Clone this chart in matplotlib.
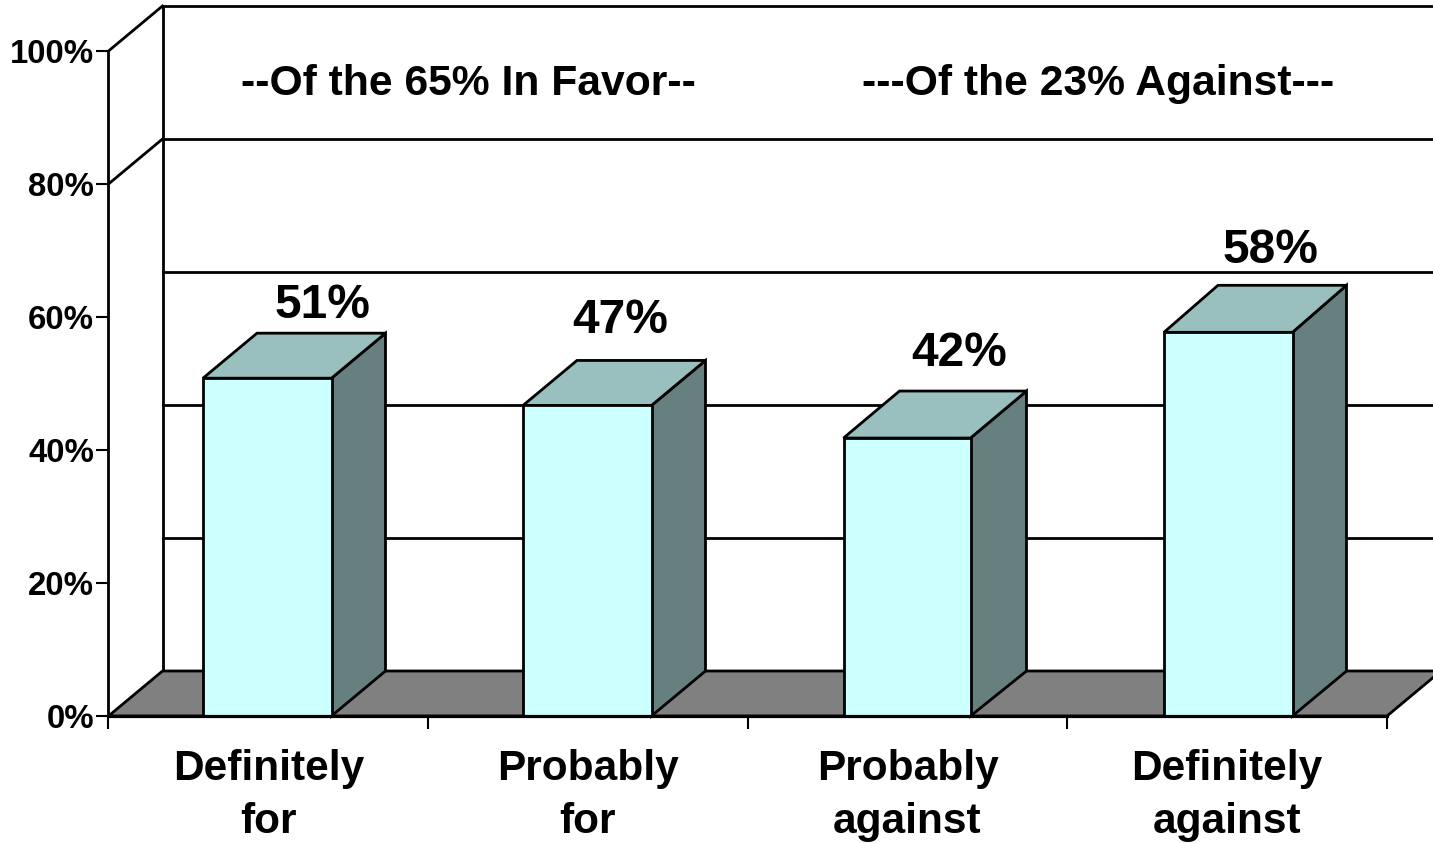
import matplotlib
matplotlib.use("Agg")
import matplotlib.pyplot as plt
from matplotlib.patches import Polygon

categories = ["Definitely\nfor", "Probably\nfor", "Probably\nagainst", "Definitely\nagainst"]
# bar heights as drawn are a little under the printed labels
heights = [50.8, 46.7, 41.8, 57.7]
labels = ["51%", "47%", "42%", "58%"]
y_ticks = [0, 20, 40, 60, 80, 100]
y_tick_labels = ["0%", "20%", "40%", "60%", "80%", "100%"]

W, H = 1433, 843
fig = plt.figure(figsize=(W / 100, H / 100), dpi=100)
plt.rcParams["font.family"] = ["Liberation Sans", "DejaVu Sans"]

# front plane of the fake 3d box
left, right, bottom, top = 108.5, 1387, 716, 51
ax = fig.add_axes([left / W, 1 - bottom / H, (right - left) / W, (bottom - top) / H])
ax.set_xlim(0, 4)
ax.set_ylim(0, 100)
for s in ax.spines.values():
    s.set_visible(False)
ax.patch.set_visible(False)

cat_px = (right - left) / 4
val_px = (bottom - top) / 100
dx = 54 / cat_px
dy = 45 / val_px
lw = 2.0
bar_w = [128.5 / cat_px, 128.5 / cat_px, 127 / cat_px, 128.5 / cat_px]
bar_off = [(203 - left) / cat_px, (523 - left) / cat_px - 1, (843.5 - left) / cat_px - 2, (1164 - left) / cat_px - 3]
# the tops of the last two bars go back slightly further than the first two
bar_dx = [dx, dx, 56 / cat_px, dx]
bar_top_dy = [dy, dy, 47 / val_px, 47 / val_px]

# floor
ax.add_patch(Polygon([(0, 0), (dx, dy), (4 + dx, dy), (4, 0)], fc="#808080", ec="black", lw=lw,
                     clip_on=False, zorder=1, joinstyle="miter"))

# walls and gridlines
for t in y_ticks:
    ax.plot([dx, 4 + dx], [t + dy, t + dy], color="black", lw=lw, clip_on=False, zorder=0.5)
for t in (80, 100):
    ax.plot([0, dx], [t, t + dy], color="black", lw=lw, clip_on=False, zorder=0.5)
ax.plot([dx, dx], [dy, 100 + dy], color="black", lw=lw, clip_on=False, zorder=0.5)
ax.plot([0, 0], [0, 100], color="black", lw=lw, clip_on=False, zorder=2)
ax.plot([0, 4], [0, 0], color="black", lw=lw + 0.3, clip_on=False, zorder=5)

# 3d bars
for i, h in enumerate(heights):
    x0 = i + bar_off[i]
    x1 = x0 + bar_w[i]
    bdx = bar_dx[i]
    bdy = bar_top_dy[i]
    ax.add_patch(Polygon([(x1, 0), (x1 + bdx, dy), (x1 + bdx, h + bdy), (x1, h)], fc="#667F7F", ec="black",
                         lw=lw, clip_on=False, zorder=3))
    ax.add_patch(Polygon([(x0, h), (x0 + bdx, h + bdy), (x1 + bdx, h + bdy), (x1, h)], fc="#99BFBF", ec="black",
                         lw=lw, clip_on=False, zorder=3))
    ax.add_patch(Polygon([(x0, 0), (x1, 0), (x1, h), (x0, h)], fc="#CCFFFF", ec="black",
                         lw=lw, clip_on=False, zorder=4))

# value labels, positions nudged by eye like the original
label_x = [0.67, 1.6, 2.66, 3.635]
label_y = [61.7, 59.5, 54.5, 70.0]
for x, y, s in zip(label_x, label_y, labels):
    ax.text(x, y, s, ha="center", va="center", fontsize=34.5, fontweight="bold", clip_on=False, zorder=6)

ax.text(1.125, 95.0, "--Of the 65% In Favor--", ha="center", va="center", fontsize=30.7, fontweight="bold")
ax.text(3.095, 95.0, "---Of the 23% Against---", ha="center", va="center", fontsize=30.7, fontweight="bold")

ax.set_yticks(y_ticks)
ax.set_yticklabels(y_tick_labels, fontsize=23.7, fontweight="bold")
ax.tick_params(axis="y", length=9, width=lw * 0.75, pad=1.5, color="black")
ax.set_xticks([0, 1, 2, 3, 4])
ax.set_xticklabels([])
ax.tick_params(axis="x", length=9.5, width=lw * 0.75, color="black")
ax.set_xticks([0.5, 1.5, 2.5, 3.5], minor=True)
ax.set_xticklabels(categories, minor=True, fontsize=30.5, fontweight="bold", linespacing=1.4)
ax.tick_params(axis="x", which="minor", length=0, pad=24)

fig.savefig("out.png", dpi=100, facecolor="white")
